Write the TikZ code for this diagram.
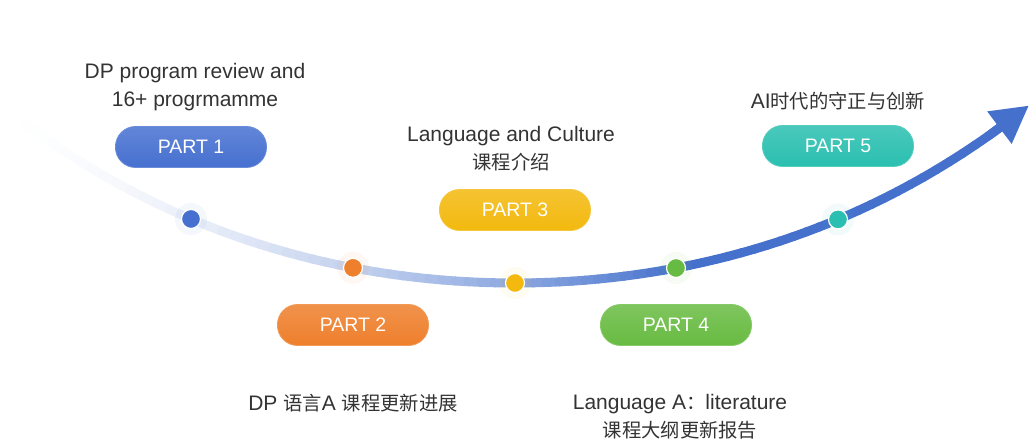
\documentclass[tikz,border=0pt]{standalone}
\usepackage{fontspec}
\setmainfont{Liberation Sans}
\newfontfamily\zhfont[Scale=0.92]{Noto Sans CJK SC}
\newcommand{\zh}[1]{{\zhfont #1}}
\usetikzlibrary{arrows.meta}
\definecolor{pblue}{HTML}{4670D0}
\definecolor{porange}{HTML}{EE7F2C}
\definecolor{pyellow}{HTML}{F3B90E}
\definecolor{pgreen}{HTML}{68BB42}
\definecolor{pteal}{HTML}{2ABFB0}
\definecolor{arr}{HTML}{4571CC}
\definecolor{txt}{HTML}{333333}
\tikzset{%
    part/.style={rectangle, rounded corners=20pt, minimum width=151pt, minimum height=41pt, text=white, font=\fontsize{19.5}{19.5}\selectfont, top color=#1!85!white, bottom color=#1, draw=#1!80!white, line width=0.8pt},
    dot/.style={circle, fill=#1, draw=white, line width=1.2pt, minimum size=19pt, inner sep=0pt},
    glow/.style={fill=#1, opacity=0.06},
    lab/.style={text=txt, align=center, font=\fontsize{21}{28}\selectfont},
    crv/.style={line width=9pt, line cap=round}
}

\begin{document}
\begin{tikzpicture}[x=1pt, y=-1pt, declare function={u(\x)=(\x-515)/100; cy(\x)=283-5.69*u(\x)*u(\x)-0.039*u(\x)*u(\x)*u(\x)*u(\x);}]
    \useasboundingbox (0,0) rectangle (1034,446);
    % curve, fading in from the left
    \foreach \i in {0,...,76}{
        \pgfmathsetmacro\xa{\i*13}
        \pgfmathsetmacro\xb{\xa+13.5}
        \pgfmathsetmacro\p{min(100,100*pow((\xa+1)/680,1.7))}
        \draw[crv, arr!\p!white] plot[domain=\xa:\xb, samples=3] (\x,{cy(\x)});
    }
    \coordinate (base) at (990,{cy(990)});
    \coordinate (tip) at (1029,{cy(1029)});
    \draw[crv, arr, -{Triangle[length=37pt,width=38pt]}] (base) -- (tip);
    % dots on the curve
    \foreach \x/\c/\n in {191/pblue/1, 353/porange/2, 515/pyellow/3, 676/pgreen/4, 838/pteal/5}{
        \fill[glow=\c] (\x,{cy(\x)}) circle (16);
        \node[dot=\c] (d\n) at (\x,{cy(\x)}) {};
    }
    % pills
    \node[part=pblue] (p1) at (191,147) {PART 1};
    \node[part=porange] (p2) at (353,325) {PART 2};
    \node[part=pyellow] (p3) at (515,210) {PART 3};
    \node[part=pgreen] (p4) at (676,325) {PART 4};
    \node[part=pteal] (p5) at (838,146) {PART 5};
    % labels
    \node[lab] (t1) at (195,87) {DP program review and\\16+ progrmamme};
    \node[lab] (t3) at (511,149) {Language and Culture\\\zh{课程介绍}};
    \node[lab] (t2) at (353,403) {DP \zh{语言}A \zh{课程更新进展}};
    \node[lab] (t4) at (680,417) {Language A\zh{：}literature\\\zh{课程大纲更新报告}};
    \node[lab] (t5) at (838,101) {AI\zh{时代的守正与创新}};
\end{tikzpicture}
\end{document}
